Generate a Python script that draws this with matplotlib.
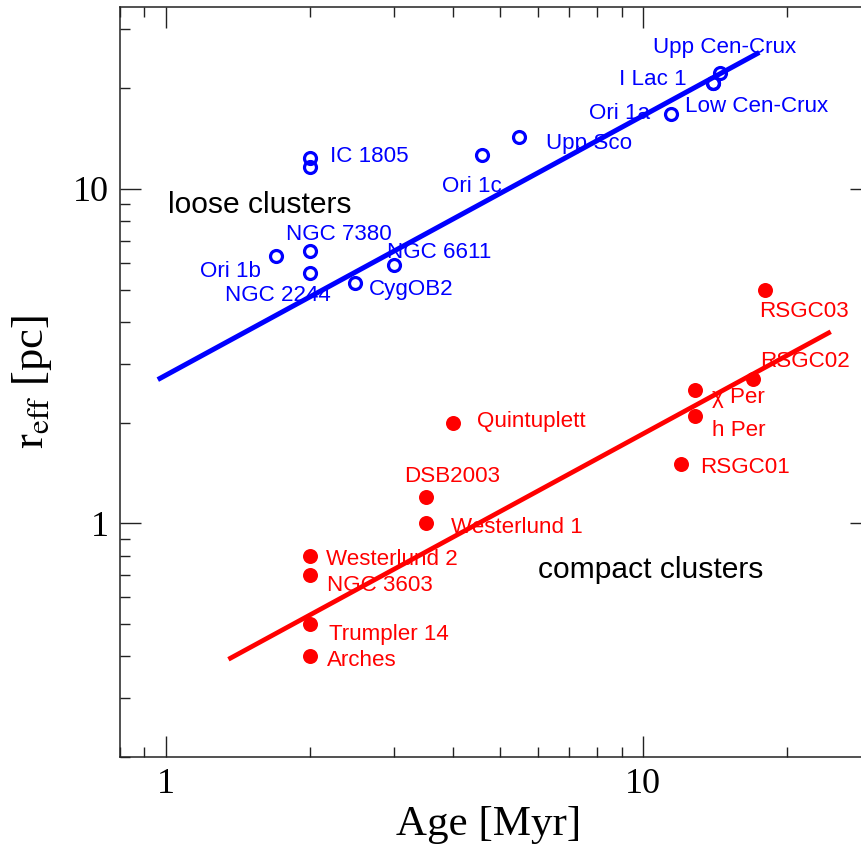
import matplotlib
matplotlib.use('Agg')
import matplotlib.pyplot as plt
from matplotlib.ticker import LogLocator, NullFormatter, FuncFormatter

plt.rcParams['mathtext.fontset'] = 'stix'

# ---- data ----
loose_names = ['Ori 1b', 'NGC 7380', 'NGC 2244', 'CygOB2', 'NGC 6611', 'IC 1805', '',
               'Ori 1c', 'Upp Sco', 'Ori 1a', 'Low Cen-Crux', 'I Lac 1', 'Upp Cen-Crux']
loose_age = [1.70, 2.0, 2.0, 2.49, 3.0, 2.0, 2.0, 4.59, 5.48, 11.4, 14.0, 14.0, 14.5]
loose_reff = [6.30, 6.52, 5.59, 5.22, 5.92, 12.4, 11.6, 12.6, 14.3, 16.7, 20.7, 20.7, 22.2]

compact_names = ['Arches', 'Trumpler 14', 'NGC 3603', 'Westerlund 2', 'Westerlund 1',
                 'DSB2003', 'Quintuplett', 'RSGC01', 'χ Per', 'h Per', 'RSGC02', 'RSGC03']
compact_age = [2.0, 2.0, 2.0, 2.0, 3.5, 3.5, 4.0, 12.0, 12.8, 12.8, 17.0, 18.0]
compact_reff = [0.40, 0.50, 0.70, 0.80, 1.0, 1.2, 2.0, 1.5, 2.5, 2.1, 2.7, 5.0]

loose_fit_age = [0.96, 17.5]
loose_fit_reff = [2.69, 25.6]
compact_fit_age = [1.35, 24.7]
compact_fit_reff = [0.392, 3.74]

# label offsets in pixels (dx, dy)
loose_off = [(-76, -20.6), (-24, 11), (-85, -27.7), (14, -12), (-6.6, 7.4), (20, -4.4), (0, 0),
             (-40, -36.6), (27.7, -11.7), (-82, -4.3), (-27.7, -28.3), (-94.4, -2), (-67.7, 19.7)]
compact_off = [(16.7, -9.7), (19.3, -16), (17.3, -15.7), (16, -9.7), (25, -9.3), (-22, 15.3),
               (23.7, -4.3), (18.6, -9), (17.7, -12.6), (17.7, -20), (7.3, 11.6), (-6.3, -27.7)]

fig = plt.figure(figsize=(8.62, 8.44), dpi=100)
ax = fig.add_axes([120/862, 87/844, 751/862, 750/844])
ax.set_xscale('log')
ax.set_yscale('log')
ax.set_xlim(0.8, 30)
ax.set_ylim(0.2, 35)

blue = (0, 0, 1)
red = (1, 0, 0)

ax.plot(loose_fit_age, loose_fit_reff, color=blue, lw=3.6, solid_capstyle='butt')
ax.plot(compact_fit_age, compact_fit_reff, color=red, lw=3.4, solid_capstyle='butt')

ax.plot(loose_age, loose_reff, ls='none', marker='o', ms=8.6, mfc='none', mec=blue, mew=2.3)
ax.plot(compact_age, compact_reff, ls='none', marker='o', ms=10.8, mfc=red, mec='none')

lab_font = dict(family=['Liberation Sans', 'DejaVu Sans'], size=16.1)
for n, x, y, off in zip(loose_names, loose_age, loose_reff, loose_off):
    if n:
        ax.annotate(n, (x, y), xytext=off, textcoords='offset pixels', color=blue,
                    ha='left', va='baseline', **lab_font)
for n, x, y, off in zip(compact_names, compact_age, compact_reff, compact_off):
    ax.annotate(n, (x, y), xytext=off, textcoords='offset pixels', color=red,
                ha='left', va='baseline', **lab_font)

ax.text(1.0097, 8.50, 'loose clusters', family='Liberation Sans', size=21.6,
        color='black', ha='left', va='baseline')
ax.text(6.01, 0.684, 'compact clusters', family='Liberation Sans', size=21.6,
        color='black', ha='left', va='baseline')

fmt = FuncFormatter(lambda v, p: f'{v:g}')
for axis in (ax.xaxis, ax.yaxis):
    axis.set_major_locator(LogLocator(base=10))
    axis.set_minor_locator(LogLocator(base=10, subs=range(2, 10)))
    axis.set_major_formatter(fmt)
    axis.set_minor_formatter(NullFormatter())

ax.tick_params(which='both', direction='in', top=True, right=True, width=1.0, color='#222222')
ax.tick_params(which='major', length=15, pad=8)
ax.tick_params(which='minor', length=7.5)
for lbl in ax.get_xticklabels() + ax.get_yticklabels():
    lbl.set_fontfamily('Liberation Serif')
    lbl.set_fontsize(26)
for s in ax.spines.values():
    s.set_linewidth(1.1)
    s.set_color('#222222')

fig.text(489/862, 9/844, 'Age [Myr]', family='Liberation Serif', size=31,
         ha='center', va='baseline')
fig.text(31.7/862, (844-382.5)/844, r'r$_{\mathrm{eff}}$ [pc]', family='Liberation Serif', size=32,
         rotation=90, ha='center', va='center')

fig.savefig('out.png', dpi=100)
